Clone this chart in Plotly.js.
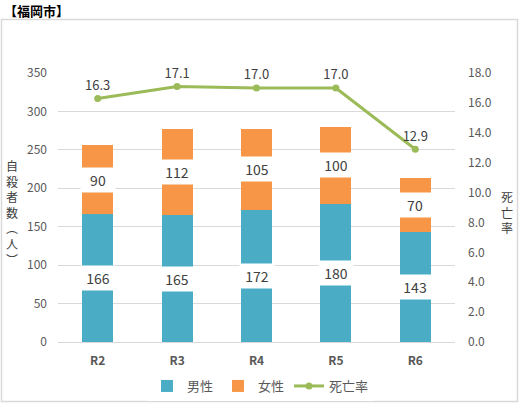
<!DOCTYPE html>
<html>
<head>
<meta charset="utf-8">
<script src="https://cdn.plot.ly/plotly-3.0.1.min.js"></script>
<style>
body { margin: 0; background: #fff; }
#chart { width: 519px; height: 405px; }
</style>
</head>
<body>
<div id="chart"></div>
<script>
var years = ['R2', 'R3', 'R4', 'R5', 'R6'];
var male = [166, 165, 172, 180, 143];
var female = [90, 112, 105, 100, 70];
var rate = [16.3, 17.1, 17.0, 17.0, 12.9];

var font = "'Noto Sans CJK JP', 'Noto Sans', sans-serif";

// plot area in pixels, used to place the free texts
var plotL = 58, plotW = 397, plotB = 342, plotH = 269;
function px(x) { return (x - plotL) / plotW; }
function py(y) { return (plotB - y) / plotH; }

var traceMale =
{
    x: years,
    y: male,
    name: '男性',
    type: 'bar',
    marker: {color: '#4BACC6'},
    hoverinfo: 'none'
};
var traceFemale =
{
    x: years,
    y: female,
    name: '女性',
    type: 'bar',
    marker: {color: '#F79646'},
    hoverinfo: 'none'
};
var traceRate =
{
    x: years,
    y: rate,
    name: '死亡率',
    type: 'scatter',
    mode: 'lines+markers+text',
    yaxis: 'y2',
    line: {color: '#9BBB59', width: 3},
    marker: {color: '#9BBB59', size: 7},
    text: rate.map(function(v){return v.toFixed(1)}),
    textposition: 'top center',
    textfont: {family: font, size: 13, color: '#404040'},
    cliponaxis: false,
    hoverinfo: 'none'
};

// white boxed labels centred on each segment
var notes = [];
for(var iii = 0; iii < years.length; iii++)
{
    notes.push({x: years[iii], y: male[iii] / 2, xref: 'x', yref: 'y', text: String(male[iii]),
        showarrow: false, bgcolor: '#ffffff', borderpad: 2, width: 30,
        font: {family: font, size: 14, color: '#404040'}});
    notes.push({x: years[iii], y: male[iii] + female[iii] / 2, xref: 'x', yref: 'y', text: String(female[iii]),
        showarrow: false, bgcolor: '#ffffff', borderpad: 2, width: 30,
        font: {family: font, size: 14, color: '#404040'}});
}
notes.push({x: px(2), y: py(11), xref: 'paper', yref: 'paper', xanchor: 'left', yanchor: 'middle',
    text: '<b>【福岡市】</b>', showarrow: false, font: {family: font, size: 13, color: '#000000'}});

// vertical axis titles, stacked characters
notes.push({x: px(12), y: py(212), xref: 'paper', yref: 'paper', xanchor: 'center', yanchor: 'middle',
    text: '自<br>殺<br>者<br>数<br>︵<br>人<br>︶', showarrow: false,
    font: {family: font, size: 12, color: '#404040'}});
notes.push({x: px(507), y: py(212), xref: 'paper', yref: 'paper', xanchor: 'center', yanchor: 'middle',
    text: '死<br>亡<br>率', showarrow: false,
    font: {family: font, size: 12, color: '#404040'}});

var layout =
{
    width: 519,
    height: 405,
    barmode: 'stack',
    bargap: 0.61,
    showlegend: true,
    paper_bgcolor: '#ffffff',
    plot_bgcolor: '#ffffff',
    font: {family: font, color: '#595959'},
    margin: {l: 58, r: 64, t: 73, b: 63, autoexpand: false},
    xaxis:
    {
        tickfont: {family: font, size: 12, color: '#595959', weight: 'bold'},
        ticks: '',
        ticklabelstandoff: 8,
        showline: true,
        linecolor: '#D9D9D9',
        linewidth: 1
    },
    yaxis:
    {
        range: [0, 350],
        dtick: 50,
        showgrid: true,
        gridcolor: '#D9D9D9',
        zeroline: false,
        ticks: '',
        ticklabelstandoff: 10,
        tickfont: {family: font, size: 12, color: '#595959'}
    },
    yaxis2:
    {
        range: [0, 18],
        dtick: 2,
        overlaying: 'y',
        side: 'right',
        showgrid: false,
        zeroline: false,
        ticks: '',
        ticklabelstandoff: 12,
        tickformat: '.1f',
        tickfont: {family: font, size: 12, color: '#595959'}
    },
    legend:
    {
        orientation: 'h',
        x: 0.51,
        xanchor: 'center',
        y: py(371),
        yanchor: 'top',
        traceorder: 'normal',
        font: {family: font, size: 13, color: '#595959'}
    },
    annotations: notes,
    shapes:
    [
        {type: 'rect', xref: 'paper', yref: 'paper',
         x0: px(1.5), x1: px(517.5), y0: py(401.5), y1: py(19.5),
         line: {color: '#D9D9D9', width: 1.5}, layer: 'below'}
    ]
};

Plotly.newPlot('chart', [traceMale, traceFemale, traceRate], layout, {displayModeBar: false, staticPlot: true});
</script>
</body>
</html>
